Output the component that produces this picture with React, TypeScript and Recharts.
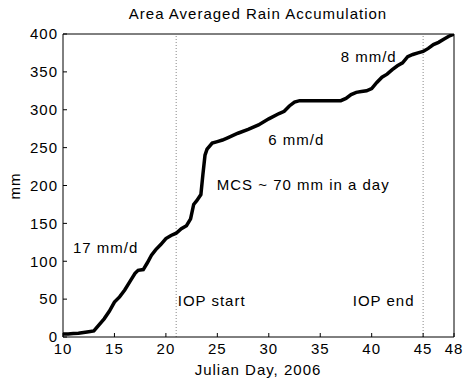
import { LineChart, Line, XAxis, YAxis, ReferenceLine, ReferenceDot } from "recharts";

// Julian day vs area averaged accumulated rain (mm)
const days = [
  10, 10.5, 11, 11.5, 12, 12.5, 13, 13.5, 14, 14.5, 15, 15.5, 16, 16.5, 17, 17.3, 17.8,
  18.2, 18.6, 19, 19.5, 20, 20.5, 21, 21.5, 22, 22.4, 22.7, 23, 23.4, 23.6, 23.8, 24,
  24.5, 25, 25.5, 26, 27, 28, 29, 30, 31, 31.5, 32, 32.5, 33, 34, 35, 36, 37, 37.5, 38,
  38.5, 39, 39.5, 40, 40.5, 41, 41.5, 42, 42.5, 43, 43.5, 44, 44.5, 45, 45.5, 46, 46.5,
  47, 47.5, 48,
];
const rain = [
  4, 4, 4.5, 5, 6, 7, 8, 16, 24, 34, 46, 53, 62, 73, 84, 88, 89,
  98, 108, 115, 122, 130, 134, 137, 143, 147, 156, 175, 180, 188, 215, 240, 248,
  256, 258, 260, 263, 269, 274, 280, 288, 295, 298, 305, 310, 312, 312, 312, 312, 312, 315, 320,
  323, 324, 325, 328, 336, 343, 347, 353, 358, 362, 370, 373, 375, 377, 381, 386, 389,
  393, 397, 400,
];

const xTicks = [10, 15, 20, 25, 30, 35, 40, 45, 48];
const yTicks = [0, 50, 100, 150, 200, 250, 300, 350, 400];
const iopDays = [21, 45];

const notes = [
  { day: 10.97, mm: 118, text: "17 mm/d" },
  { day: 24.94, mm: 200.5, text: "MCS ~ 70 mm in a day" },
  { day: 29.95, mm: 260, text: "6 mm/d" },
  { day: 36.99, mm: 370, text: "8 mm/d" },
  { day: 21.15, mm: 48.5, text: "IOP start" },
  { day: 38.16, mm: 48.5, text: "IOP end" },
];

const data = days.map((d, i) => ({ day: d, mm: rain[i] }));

const font = { fill: "#000", fontSize: 15, letterSpacing: 1 };

export default function App() {
  return (
    <div
      style={{
        position: "absolute",
        left: 0,
        top: 0,
        width: 464,
        height: 383,
        background: "#fff",
        fontFamily: "'Liberation Sans', Arial, sans-serif",
      }}
    >
      <LineChart width={464} height={383} data={data} margin={{ top: 33, right: 9, bottom: 16, left: 23 }}>
        <XAxis
          dataKey="day"
          type="number"
          domain={[10, 48]}
          ticks={xTicks}
          allowDataOverflow
          height={30}
          stroke="#000"
          tickSize={-4}
          tickMargin={10}
          tick={font}
          interval={0}
        />
        <XAxis
          xAxisId="top"
          orientation="top"
          type="number"
          domain={[10, 48]}
          ticks={xTicks}
          allowDataOverflow
          height={1}
          stroke="#000"
          tickSize={-4}
          tick={false}
          interval={0}
        />
        <YAxis
          type="number"
          domain={[0, 400]}
          ticks={yTicks}
          allowDataOverflow
          width={40}
          stroke="#000"
          tickSize={-4}
          tickMargin={9}
          tick={font}
          interval={0}
        />
        <YAxis
          yAxisId="right"
          orientation="right"
          type="number"
          domain={[0, 400]}
          ticks={yTicks}
          allowDataOverflow
          width={1}
          stroke="#000"
          tickSize={-4}
          tick={false}
          interval={0}
        />
        {iopDays.map((d) => (
          <ReferenceLine key={d} x={d} stroke="#888" strokeDasharray="1 2" />
        ))}
        <Line
          type="linear"
          dataKey="mm"
          stroke="#000"
          strokeWidth={3.5}
          dot={false}
          isAnimationActive={false}
        />
        {notes.map((n) => (
          <ReferenceDot
            key={n.text}
            x={n.day}
            y={n.mm}
            r={0}
            fill="none"
            stroke="none"
            label={{ value: n.text, position: "right", offset: 0, ...font }}
          />
        ))}
      </LineChart>
      <svg
        width={464}
        height={383}
        style={{ position: "absolute", left: 0, top: 0, pointerEvents: "none" }}
      >
        <text x={258} y={19} textAnchor="middle" fontSize={15} letterSpacing={1} fill="#000">
          Area Averaged Rain Accumulation
        </text>
        <text x={258} y={375} textAnchor="middle" fontSize={15} letterSpacing={1} fill="#000">
          Julian Day, 2006
        </text>
        <text
          x={0}
          y={0}
          transform="translate(20,186) rotate(-90)"
          textAnchor="middle"
          fontSize={15}
          letterSpacing={1}
          fill="#000"
        >
          mm
        </text>
      </svg>
    </div>
  );
}
